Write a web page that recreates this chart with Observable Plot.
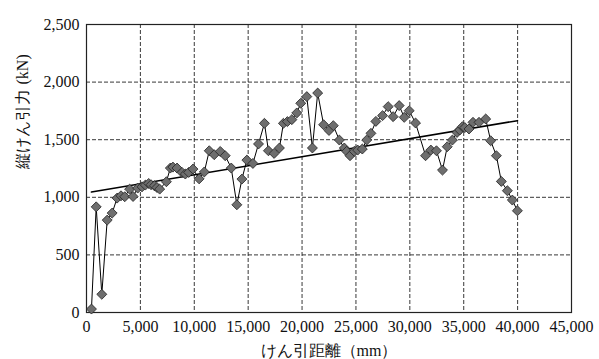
<!DOCTYPE html>
<html>
<head>
<meta charset="utf-8">
<script src="https://cdn.jsdelivr.net/npm/d3@7"></script>
<script src="https://cdn.jsdelivr.net/npm/@observablehq/plot@0.6"></script>
<style>
  html, body { margin: 0; padding: 0; background: #fff; }
  svg text { font-family: 'Liberation Serif', serif; }
</style>
</head>
<body>
<div id="chart"></div>
<script>
// けん引距離 (mm)
const distance = [460, 900, 1420, 1920, 2380, 2840, 3200, 3550, 4000, 4320, 4750, 5150, 5460, 5770, 5990, 6300, 6540, 6790, 7410, 7780, 8020, 8400, 8860, 9170, 9480, 9880, 10450, 10930, 11390, 11850, 12410, 12870, 13430, 13950, 14420, 14880, 15440, 15960, 16510, 16880, 17410, 17900, 18270, 18640, 19050, 19510, 19880, 20440, 20960, 21450, 22000, 22500, 22900, 23460, 23920, 24140, 24450, 24850, 25160, 25590, 26000, 26390, 26850, 27470, 27990, 28450, 29010, 29480, 29940, 30530, 31460, 31950, 32470, 33030, 33470, 33950, 34380, 34630, 34880, 35100, 35490, 35860, 36420, 37040, 37500, 38030, 38490, 39050, 39510, 39980];
// 縦けん引力 (kN)
const force = [30, 917, 158, 802, 863, 993, 1013, 1005, 1071, 1007, 1080, 1091, 1106, 1120, 1109, 1100, 1085, 1071, 1135, 1254, 1262, 1254, 1216, 1202, 1216, 1245, 1160, 1220, 1404, 1370, 1398, 1361, 1254, 935, 1158, 1323, 1294, 1463, 1642, 1404, 1381, 1428, 1642, 1657, 1674, 1732, 1816, 1874, 1428, 1905, 1630, 1580, 1622, 1497, 1428, 1399, 1361, 1399, 1410, 1419, 1497, 1555, 1659, 1709, 1787, 1700, 1796, 1694, 1752, 1645, 1361, 1410, 1404, 1236, 1439, 1497, 1563, 1584, 1613, 1605, 1593, 1651, 1651, 1680, 1491, 1361, 1138, 1057, 976, 883];
const xTicks = [0, 5000, 10000, 15000, 20000, 25000, 30000, 35000, 40000, 45000];
const yTicks = [0, 500, 1000, 1500, 2000, 2500];
const xLabel = "けん引距離（mm）";
const yLabel = "縦けん引力 (kN)";

const data = distance.map((d, i) => ({x: d, y: force[i]}));
const fmt = d3.format(",");
const jp = "'Noto Sans CJK JP', sans-serif";
const serif = "'Liberation Serif', serif";

const chart = Plot.plot({
  width: 599,
  height: 359,
  marginLeft: 86,
  marginRight: 28,
  marginTop: 24,
  marginBottom: 47,
  style: {fontFamily: serif, fontSize: "16px", color: "#111", background: "#fff"},
  x: {domain: [0, 45000]},
  y: {domain: [0, 2500]},
  marks: [
    Plot.gridX(xTicks.slice(1, -1), {stroke: "#222", strokeOpacity: 0.9, strokeDasharray: "4,2"}),
    Plot.gridY(yTicks.slice(1, -1), {stroke: "#222", strokeOpacity: 0.9, strokeDasharray: "4,2"}),
    Plot.axisX(xTicks, {tickSize: 0, tickPadding: 8, tickFormat: fmt, label: null, fontFamily: serif, fontSize: 16, fill: "#111"}),
    Plot.axisY(yTicks, {tickSize: 0, tickPadding: 7, tickFormat: fmt, label: null, fontFamily: serif, fontSize: 16, fill: "#111"}),
    Plot.frame({stroke: "#222", strokeWidth: 1.2}),
    Plot.linearRegressionY(data, {x: "x", y: "y", stroke: "#000", strokeWidth: 1.6, ci: 0}),
    Plot.line(data, {x: "x", y: "y", stroke: "#000", strokeWidth: 1}),
    Plot.dot(data, {x: "x", y: "y", symbol: "diamond2", r: 4.5, fill: "#6e6e6e", stroke: "#222", strokeWidth: 0.8}),
    Plot.text([xLabel], {frameAnchor: "bottom", dy: 38, lineAnchor: "middle", fontFamily: jp, fontSize: 16, fill: "#111"}),
    Plot.text([yLabel], {frameAnchor: "left", dx: -64, rotate: -90, lineAnchor: "middle", fontFamily: jp, fontSize: 16, fill: "#111"})
  ]
});
document.getElementById("chart").appendChild(chart);
</script>
</body>
</html>
